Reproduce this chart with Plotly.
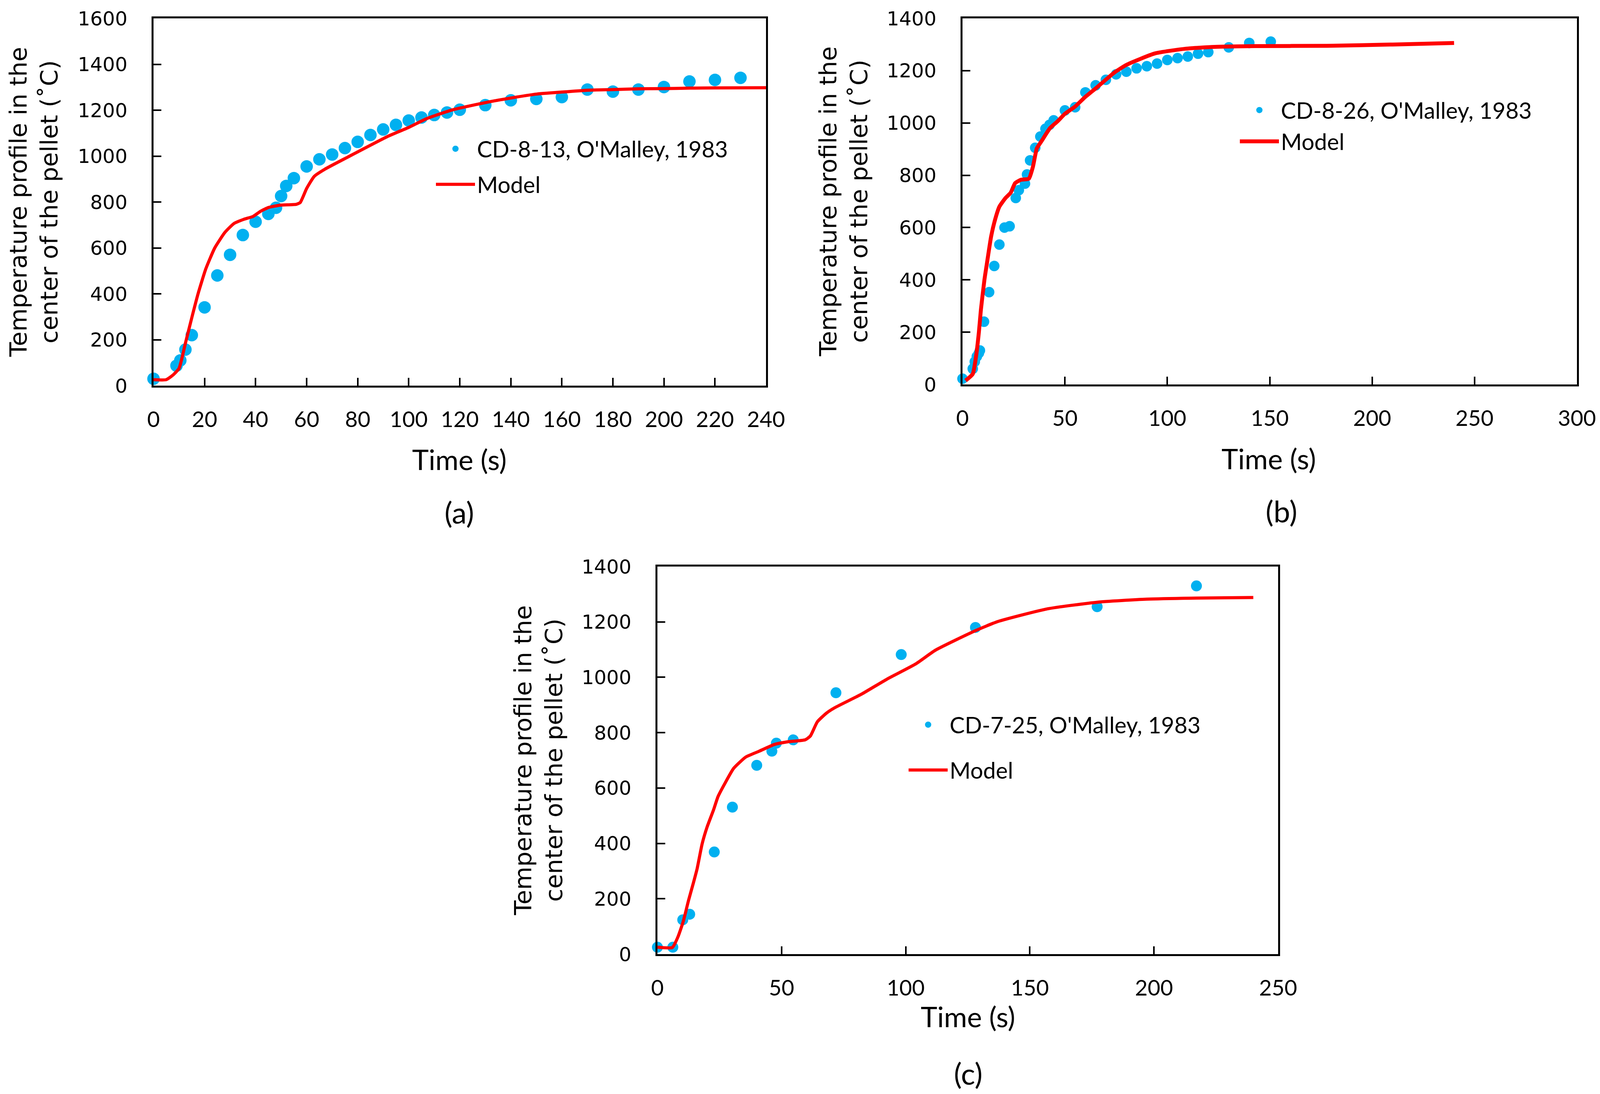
import plotly.graph_objects as go

W, H = 4103, 2800
BLUE = "#00B0F0"
RED = "#FF0000"
FONT = "Lato"
YFONT = "DejaVu Sans"

# (a) CD-8-13
a_exp_t = [0, 9, 10.5, 12.5, 15, 20, 25, 30, 35, 40, 45, 48, 50, 52, 55, 60, 65, 70, 75, 80,
           85, 90, 95, 100, 105, 110, 115, 120, 130, 140, 150, 160, 170, 180, 190, 200, 210, 220, 230]
a_exp_T = [30, 87, 110, 157, 220, 341, 480, 570, 656, 714, 748, 775, 826, 870, 904, 955, 986, 1007, 1035, 1062,
           1092, 1116, 1136, 1155, 1168, 1179, 1190, 1202, 1222, 1243, 1249, 1257, 1290, 1281, 1290, 1301, 1325, 1332, 1341]
a_mod_t = [0, 5, 7.5, 10, 12.5, 15, 17.5, 20.5, 24, 28, 31.5, 35.5, 39, 42, 45, 49.5, 56, 57.5, 60, 63,
           67, 76, 92, 100, 107, 117, 130, 140, 150, 160, 170, 180, 190, 200, 210, 220, 240]
a_mod_T = [26, 26, 45, 75, 185, 296, 402, 509, 600, 668, 706, 725, 737, 760, 776, 786, 790, 798, 859, 912,
           942, 995, 1087, 1125, 1163, 1201, 1233, 1253, 1270, 1279, 1287, 1290, 1293, 1294, 1296, 1297, 1298]

# (b) CD-8-26
b_exp_t = [0, 5, 6, 7, 8, 8.5, 10.5, 13, 15.5, 18, 20.5, 23, 26, 27.5, 30.5, 31.5, 33, 35.5, 38, 40.5,
           42.5, 44.5, 50, 55, 60, 65, 70, 75, 80, 85, 90, 95, 100, 105, 110, 115, 120, 130, 140, 150.5]
b_exp_T = [22, 60, 87, 107, 120, 130, 240, 353, 453, 535, 600, 605, 713, 743, 768, 803, 857, 905, 948, 978,
           993, 1010, 1048, 1060, 1117, 1144, 1165, 1186, 1196, 1209, 1217, 1227, 1241, 1248, 1254, 1265, 1271, 1289, 1306, 1311]
b_mod_t = [1.5, 5, 6.6, 8, 9, 10.7, 12, 14, 16, 18, 21, 23.5, 25.7, 28.6, 32.4, 34.4, 36.3, 38.8, 42.7, 46.5,
           50, 55, 60, 65, 74, 80, 94, 109, 123, 143, 178, 210, 240]
b_mod_T = [15, 40, 107, 200, 287, 400, 467, 567, 633, 680, 713, 733, 770, 783, 787, 833, 903, 933, 980, 1007,
           1035, 1063, 1100, 1132, 1192, 1222, 1266, 1284, 1291, 1294, 1295, 1300, 1306]

# (c) CD-7-25
c_exp_t = [0, 6.2, 10.2, 13, 22.9, 30.2, 40, 46.1, 47.9, 54.7, 71.9, 98.2, 128.1, 177.1, 217.1]
c_exp_T = [25, 25, 124, 144, 369, 531, 682, 733, 762, 774, 944, 1082, 1180, 1255, 1330]
c_mod_t = [0, 6, 8.3, 10.4, 12.5, 14.6, 16, 18, 20, 22.6, 24.4, 27.2, 30.7, 35.6, 41, 47, 52.5, 59.5, 61.6, 64.4,
           68, 71.4, 82, 92.4, 104, 112, 128, 137, 157, 177, 197, 217, 240]
c_mod_T = [25, 24, 63, 118, 193, 261, 309, 398, 459, 521, 569, 617, 671, 712, 733, 757, 767, 774, 788, 839,
           870, 890, 938, 993, 1048, 1098, 1168, 1201, 1247, 1271, 1282, 1286, 1288]

exp_names = ["CD-8-13, O'Malley, 1983", "CD-8-26, O'Malley, 1983", "CD-7-25, O'Malley, 1983"]
y_title = "Temperature profile in the<br>center of the pellet (˚C)"


def px_x(v):
    return v / W


def px_y(v):
    return 1 - v / H


fig = go.Figure()

legend_ids = ["legend", "legend2", "legend3", "legend4", "legend5", "legend6"]
panels = [
    # exp t, exp T, model t, model T, axis suffix, marker size, line width
    (a_exp_t, a_exp_T, a_mod_t, a_mod_T, "", 32, 8),
    (b_exp_t, b_exp_T, b_mod_t, b_mod_T, "2", 27, 10),
    (c_exp_t, c_exp_T, c_mod_t, c_mod_T, "3", 28, 8),
]
for i, (et, eT, mt, mT, sfx, ms, lw) in enumerate(panels):
    # one legend per entry so each row sits where the reference has it
    fig.add_trace(go.Scatter(x=et, y=eT, mode="markers", name=exp_names[i],
                             marker=dict(color=BLUE, size=ms), cliponaxis=False,
                             xaxis="x" + sfx, yaxis="y" + sfx, legend=legend_ids[2 * i]))
    fig.add_trace(go.Scatter(x=mt, y=mT, mode="lines", name="Model",
                             line=dict(color=RED, width=lw, shape="spline", smoothing=0.5),
                             xaxis="x" + sfx, yaxis="y" + sfx, legend=legend_ids[2 * i + 1]))

axis_style = dict(showline=True, linecolor="black", linewidth=4.5, mirror=True,
                  ticks="inside", ticklen=20, tickwidth=4, tickcolor="black",
                  showgrid=False, zeroline=False, automargin=False)

# plot boxes in pixels: left, right, top, bottom
boxes = [(393, 1961, 47, 987), (2464, 4037, 47, 984), (1683, 3272, 1450, 2442)]
xranges = [(0, 240, 20), (0, 300, 50), (0, 250, 50)]
yranges = [(0, 1600, 200), (0, 1400, 200), (0, 1400, 200)]

layout = {}
for i, sfx in enumerate(["", "2", "3"]):
    l, r, t, b = boxes[i]
    layout["xaxis" + sfx] = dict(axis_style, domain=[px_x(l), px_x(r)], range=list(xranges[i][:2]),
                                 dtick=xranges[i][2], tick0=0, anchor="y" + sfx, ticklabelstandoff=34,
                                 tickfont=dict(family=FONT, size=56, color="black"))
    layout["yaxis" + sfx] = dict(axis_style, domain=[px_y(b), px_y(t)], range=list(yranges[i][:2]),
                                 dtick=yranges[i][2], tick0=0, anchor="x" + sfx, ticklabelstandoff=52,
                                 tickfont=dict(family=YFONT, size=50, color="black"))

legend_style = dict(xanchor="left", yanchor="middle", bgcolor="rgba(0,0,0,0)", borderwidth=0,
                    font=dict(size=58, color="black"), itemwidth=100)
# text start x, row centre y (pixels)
legend_pos = [(1229, 381), (1229, 472), (3287, 282), (3287, 362), (2439, 1855), (2439, 1971)]
for key, (lx, ly) in zip(legend_ids, legend_pos):
    layout[key] = dict(legend_style, x=px_x(lx - 118), y=px_y(ly))

fig.update_layout(**layout)
fig.update_layout(
    width=W, height=H,
    margin=dict(l=0, r=0, t=0, b=0, autoexpand=False),
    paper_bgcolor="white", plot_bgcolor="white",
    font=dict(family=FONT, color="black"),
    showlegend=True,
)

annots = []
# y-axis titles
for cx, (l, r, t, b) in zip([86, 2159, 1378], boxes):
    annots.append(dict(text=y_title, x=px_x(cx), y=px_y((t + b) / 2), textangle=-90,
                       font=dict(family=YFONT, size=61)))
# x-axis titles
for cx, cy in [(1176, 1175), (3248, 1173), (2478, 2601)]:
    annots.append(dict(text="Time (s)", x=px_x(cx), y=px_y(cy), font=dict(size=72)))
# panel labels
for lab, cx, cy in [("(a)", 1176, 1310), ("(b)", 3280, 1308), ("(c)", 2478, 2746)]:
    annots.append(dict(text=lab, x=px_x(cx), y=px_y(cy), font=dict(size=76)))

for an in annots:
    an["font"]["color"] = "black"
    fig.add_annotation(xref="paper", yref="paper", showarrow=False,
                       xanchor="center", yanchor="middle", **an)

# page margin off so the 4103x2800 figure sits exactly in the window
fig.write_html("out.html", config={"displayModeBar": False},
               post_script="document.body.style.margin='0';")
